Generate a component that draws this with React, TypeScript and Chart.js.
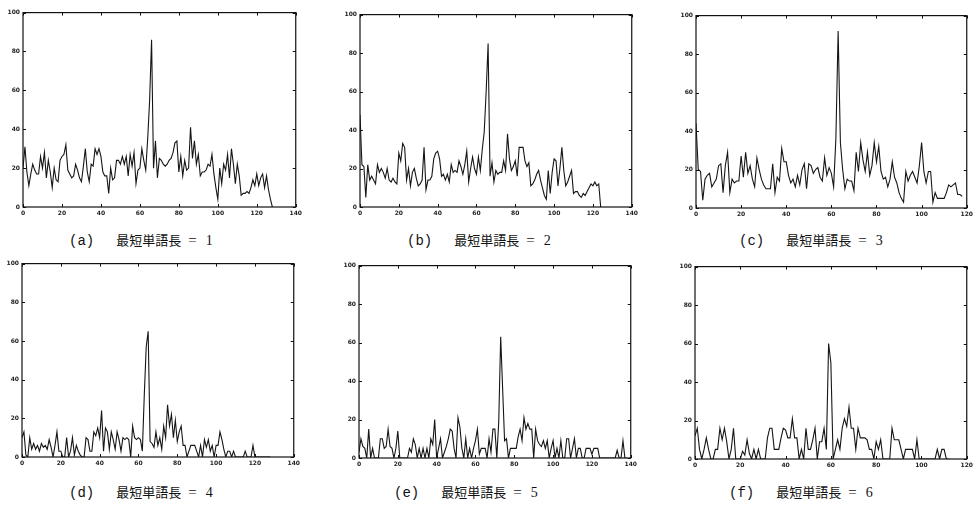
import React, { useEffect, useRef } from "react";
import { Chart, registerables } from "chart.js";

Chart.register(...registerables);

// ---- data (value per integer x, starting at x = 0) ----
const SERIES_A = [20,31,18,11,17,22,19,17,17,26, 20,28,15,24,18,10,20,14,13,24, 26,27,32,19,17,15,16,22,19,15, 13,21,30,18,13,22,21,30,27,30, 26,18,16,16,7,20,14,15,24,24, 22,26,22,26,16,27,21,28,12,19, 20,30,24,19,35,55,86,20,34,15, 25,24,22,21,22,24,25,28,33,34, 18,26,16,24,19,20,41,25,34,22, 27,16,18,18,19,22,21,27,17,10, 4,20,12,22,19,27,15,30,22,12, 22,16,6,7,7,8,7,10,14,11, 17,11,15,17,10,16,9,4,0];
const SERIES_B = [48,22,21,5,22,14,16,14,12,22, 18,20,18,15,20,14,13,15,13,12, 28,24,33,31,14,20,11,18,20,15, 11,12,14,31,9,14,14,16,25,28, 29,25,16,17,14,17,13,22,18,19, 18,24,21,17,22,29,13,20,26,20, 17,26,19,30,39,60,85,16,23,13, 19,17,18,18,24,19,38,25,19,21, 24,16,31,31,31,24,21,23,11,12, 14,17,19,14,10,6,4,19,7,18, 25,24,11,20,31,19,11,13,16,19, 7,8,8,6,5,7,6,8,10,12, 11,13,11,12,0];
const SERIES_C = [44,20,19,4,15,17,18,11,13,15, 22,23,8,22,29,8,15,13,14,14, 27,16,29,18,22,15,11,26,20,15, 12,10,10,10,23,8,16,14,31,24, 24,17,13,15,11,17,12,20,23,10, 23,22,18,20,21,16,14,26,17,21, 18,11,36,92,34,20,10,15,14,14, 9,29,19,34,25,19,29,17,22,34, 24,32,19,15,16,11,15,24,16,13, 8,5,3,19,14,17,19,16,13,22, 34,19,13,19,19,3,8,5,5,5, 5,8,12,11,12,13,7,7,6];
const SERIES_D = [10,13,1,0,10,4,7,4,6,3, 7,5,6,4,9,5,0,6,13,3, 3,0,0,10,0,3,10,1,6,3, 1,0,0,10,9,3,3,13,11,15, 10,24,3,15,13,4,13,9,4,13, 9,3,10,9,10,9,0,16,10,9, 10,9,3,32,57,65,8,7,5,13, 6,10,4,16,10,27,16,22,10,19, 8,13,16,6,6,0,3,6,6,6, 3,0,6,0,9,5,9,3,6,0, 6,6,13,9,4,0,3,3,0,3, 0,0,0,0,0,3,0,0,0,6, 0,0,0,0,0,0,0,0,0];
const SERIES_E = [3,10,6,5,0,15,0,5,0,0, 0,10,10,5,6,15,6,5,0,5, 14,0,0,0,0,0,5,3,10,7, 0,5,0,5,0,5,0,10,7,20, 0,5,10,0,3,6,10,15,14,5, 0,21,16,5,0,10,0,5,0,5, 9,15,2,5,5,5,0,10,3,15, 15,0,19,63,36,9,10,0,5,5, 5,5,11,15,9,21,15,18,15,15, 0,15,9,7,6,9,5,9,0,5, 9,0,5,0,9,0,0,10,10,0, 5,10,0,5,5,0,0,5,5,5, 2,5,5,5,0,0,0,0,0,0, 0,0,0,4,0,0,9,0,0];
const SERIES_F = [12,16,5,0,5,11,5,0,0,5, 5,16,10,16,9,0,5,16,0,0, 0,4,2,10,3,0,5,0,5,0, 0,0,11,16,16,5,5,5,11,16, 15,11,11,21,11,11,0,5,0,16, 5,5,10,16,0,9,9,16,5,60, 50,0,5,10,5,16,21,17,27,16, 16,5,16,11,11,11,10,5,5,0, 9,5,10,0,0,0,0,16,10,10, 10,5,0,5,5,5,5,0,10,0, 0,0,0,0,0,0,0,5,0,5, 5,0,0];

const X_MAX = [140, 140, 120, 140, 140, 120];
const Y_MAX = 100;
const TICK_STEP = 20;
const LABELS = ["(a)", "(b)", "(c)", "(d)", "(e)", "(f)"];
const CAPTION_TEXT = "最短単語長";
const MIN_WORD_LEN = [1, 2, 3, 4, 5, 6];
const ALL_SERIES = [SERIES_A, SERIES_B, SERIES_C, SERIES_D, SERIES_E, SERIES_F];

// ---- layout (page pixels) ----
const PLOT_RECTS: [number, number, number, number][] = [
  [23, 12, 296, 207],
  [360, 14, 632, 207],
  [696, 15, 967, 208],
  [22, 263, 294, 457],
  [359, 265, 631, 458],
  [695, 266, 967, 459],
];
const CAPTION_POS: [number, number][] = [
  [69, 231], [407, 231], [739, 231],
  [69, 483], [394, 483], [729, 483],
];

const Y_AXIS_W = 18;
const X_AXIS_H = 13;
const PAD_TOP = 6;
const PAD_RIGHT = 9;

const framePlugin = {
  id: "frameTicks",
  afterDraw(chart: any) {
    const { ctx, chartArea, scales } = chart;
    const { left, top, right, bottom } = chartArea;
    const xs = scales.x;
    const ys = scales.y;
    ctx.save();
    ctx.strokeStyle = "#111";
    ctx.lineWidth = 1.2;
    ctx.strokeRect(left, top, right - left, bottom - top);
    ctx.lineWidth = 1;
    ctx.beginPath();
    xs.ticks.forEach((t: any) => {
      const px = Math.round(xs.getPixelForValue(t.value)) + 0.5;
      ctx.moveTo(px, bottom);
      ctx.lineTo(px, bottom - 3);
      ctx.moveTo(px, top);
      ctx.lineTo(px, top + 3);
    });
    ys.ticks.forEach((t: any) => {
      const py = Math.round(ys.getPixelForValue(t.value)) + 0.5;
      ctx.moveTo(left, py);
      ctx.lineTo(left + 3, py);
      ctx.moveTo(right, py);
      ctx.lineTo(right - 3, py);
    });
    ctx.stroke();
    ctx.restore();
  },
};

function Panel({ idx }: { idx: number }) {
  const ref = useRef<HTMLCanvasElement | null>(null);
  const [l, t, r, b] = PLOT_RECTS[idx];
  const width = r - l + Y_AXIS_W + PAD_RIGHT;
  const height = b - t + PAD_TOP + X_AXIS_H;

  useEffect(() => {
    if (!ref.current) return;
    const values = ALL_SERIES[idx];
    const tickFont = { family: "DejaVu Sans", size: 6, weight: "bold" as const };
    const chart = new Chart(ref.current, {
      type: "line",
      data: {
        datasets: [
          {
            data: values.map((v, i) => ({ x: i, y: v })),
            borderColor: "#151515",
            borderWidth: 1.1,
            pointRadius: 0,
            tension: 0,
            fill: false,
          },
        ],
      },
      options: {
        responsive: false,
        animation: false,
        devicePixelRatio: 1,
        layout: { padding: { top: PAD_TOP, right: PAD_RIGHT, left: 0, bottom: 0 } },
        plugins: { legend: { display: false }, tooltip: { enabled: false }, title: { display: false } },
        scales: {
          x: {
            type: "linear",
            min: 0,
            max: X_MAX[idx],
            grid: { display: false, drawTicks: false },
            border: { display: false },
            ticks: { stepSize: TICK_STEP, font: tickFont, color: "#222", padding: 3, maxRotation: 0 },
            afterFit: (s: any) => { s.height = X_AXIS_H; },
          },
          y: {
            type: "linear",
            min: 0,
            max: Y_MAX,
            grid: { display: false, drawTicks: false },
            border: { display: false },
            ticks: { stepSize: TICK_STEP, font: tickFont, color: "#222", padding: 3 },
            afterFit: (s: any) => { s.width = Y_AXIS_W; },
          },
        },
      },
      plugins: [framePlugin],
    });
    return () => chart.destroy();
  }, [idx]);

  return (
    <canvas
      ref={ref}
      width={width}
      height={height}
      style={{ position: "absolute", left: l - Y_AXIS_W, top: t - PAD_TOP, width, height }}
    />
  );
}

function Caption({ idx }: { idx: number }) {
  const [x, y] = CAPTION_POS[idx];
  return (
    <div
      style={{
        position: "absolute",
        left: x,
        top: y,
        fontSize: 14,
        lineHeight: "18px",
        whiteSpace: "pre",
        color: "#111",
        fontFamily: "'Liberation Mono', monospace",
      }}
    >
      <span>{LABELS[idx]}</span>
      <span style={{ fontFamily: "'Noto Sans CJK JP', sans-serif", fontSize: 13, marginLeft: 22 }}>{CAPTION_TEXT}</span>
      <span style={{ marginLeft: 7, fontFamily: "'Liberation Serif', serif", fontSize: 15 }}>=</span>
      <span style={{ marginLeft: 9, fontFamily: "'Liberation Serif', serif", fontSize: 14 }}>{MIN_WORD_LEN[idx]}</span>
    </div>
  );
}

export default function App() {
  return (
    <div style={{ position: "fixed", left: 0, top: 0, width: 974, height: 505, background: "#fff", overflow: "hidden" }}>
      {ALL_SERIES.map((_, i) => (
        <Panel key={"p" + i} idx={i} />
      ))}
      {ALL_SERIES.map((_, i) => (
        <Caption key={"c" + i} idx={i} />
      ))}
    </div>
  );
}
